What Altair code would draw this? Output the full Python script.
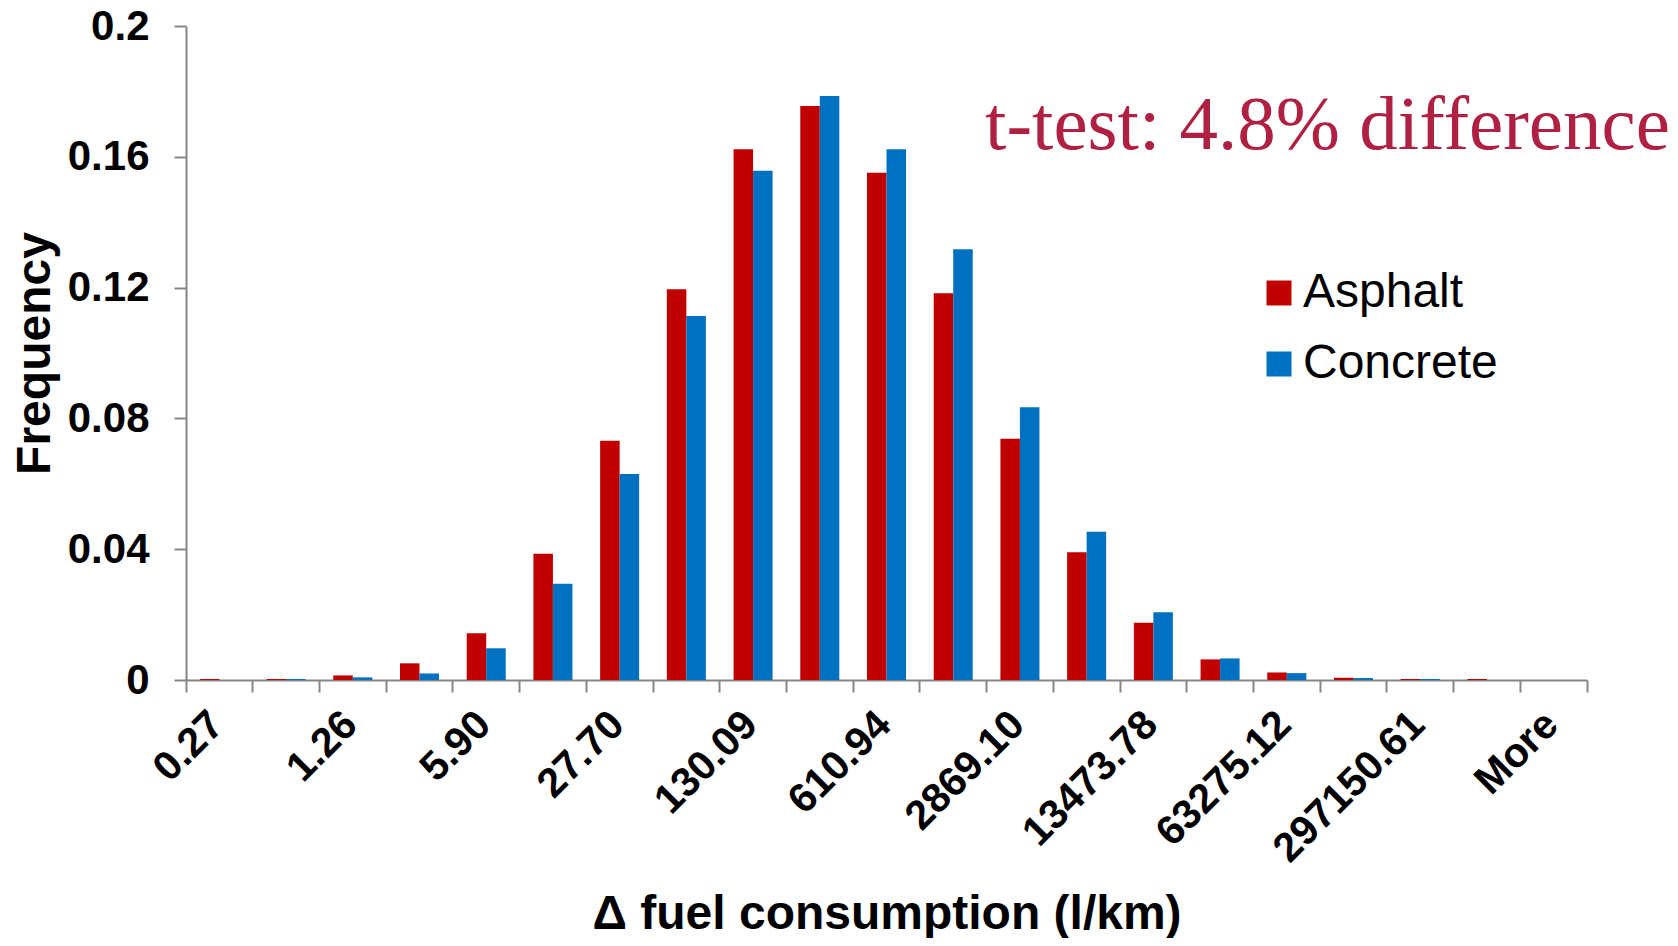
import altair as alt
import pandas as pd

CATEGORIES = ["0.27", "0.58", "1.26", "2.73", "5.90", "12.79", "27.70", "60.03",
              "130.09", "281.91", "610.94", "1323.97", "2869.10", "6217.53",
              "13473.78", "29198.47", "63275.12", "137122.04", "297150.61",
              "643946.31", "More"]
SHOWN_LABELS = ["0.27", "1.26", "5.90", "27.70", "130.09", "610.94", "2869.10",
                "13473.78", "63275.12", "297150.61", "More"]
ASPHALT = [0.0003, 0.0003, 0.0014, 0.0051, 0.0143, 0.0386, 0.0732, 0.1195,
           0.1623, 0.1755, 0.1551, 0.1183, 0.0738, 0.0391, 0.0175, 0.0063,
           0.0023, 0.0007, 0.0003, 0.0003, 0.0]
CONCRETE = [0.0, 0.0003, 0.0008, 0.0020, 0.0097, 0.0294, 0.0630, 0.1113,
            0.1557, 0.1786, 0.1623, 0.1317, 0.0834, 0.0453, 0.0207, 0.0066,
            0.0021, 0.0006, 0.0003, 0.0, 0.0]
SERIES = ["Asphalt", "Concrete"]
COLORS = ["#C00000", "#0070C0"]
Y_TICKS = [0, 0.04, 0.08, 0.12, 0.16, 0.2]
ANNOTATION = "t-test: 4.8% difference"
X_TITLE = "Δ fuel consumption (l/km)"
Y_TITLE = "Frequency"

rows = []
for i, c in enumerate(CATEGORIES):
    rows.append({"bin": c, "series": SERIES[0], "freq": ASPHALT[i]})
    rows.append({"bin": c, "series": SERIES[1], "freq": CONCRETE[i]})
df = pd.DataFrame(rows)

W, H = 1401, 654
GREY = "#868686"
SANS = "Liberation Sans"

def xscale():
    return alt.Scale(domain=CATEGORIES, paddingInner=0, paddingOuter=0)

bars = alt.Chart(df).mark_bar().encode(
    x=alt.X("bin:N", sort=CATEGORIES, scale=xscale(),
            axis=alt.Axis(orient="bottom", labels=False, ticks=True, bandPosition=0,
                          tickSize=12, tickWidth=2, tickColor=GREY,
                          domain=True, domainColor=GREY, domainWidth=2,
                          title=None, grid=False)),
    xOffset=alt.XOffset("series:N", sort=SERIES,
                        scale=alt.Scale(paddingOuter=0.71, paddingInner=0)),
    y=alt.Y("freq:Q", scale=alt.Scale(domain=[0, 0.2], nice=False, zero=True),
            axis=alt.Axis(values=Y_TICKS, format="~g", orient="left",
                          tickSize=12, tickWidth=2, tickColor=GREY,
                          domainColor=GREY, domainWidth=2, grid=False,
                          labelFont=SANS, labelFontWeight="bold", labelFontSize=42,
                          labelColor="black", labelPadding=25,
                          title=Y_TITLE, titleFont=SANS, titleFontWeight="bold",
                          titleFontSize=48, titleColor="black", titleAngle=270,
                          titleBaseline="middle", titleAlign="center",
                          titleX=-151, titleY=H / 2)),
    color=alt.Color("series:N", sort=SERIES,
                    scale=alt.Scale(domain=SERIES, range=COLORS),
                    legend=alt.Legend(orient="none", legendX=1069, legendY=243,
                                      title=None, labelFont=SANS, labelFontSize=48,
                                      labelColor="black", symbolType="square",
                                      symbolSize=625, symbolStrokeWidth=0,
                                      labelOffset=0, rowPadding=23, padding=0,
                                      symbolOffset=0, labelLimit=400)),
)

labels_layer = alt.Chart(df).mark_point(opacity=0).encode(
    x=alt.X("bin:N", sort=CATEGORIES, scale=xscale(),
            axis=alt.Axis(orient="bottom", values=SHOWN_LABELS, ticks=False,
                          tickSize=0, domain=False, grid=False,
                          labelAngle=-45, labelAlign="right", labelBaseline="top",
                          labelFont=SANS, labelFontWeight="bold", labelFontSize=41,
                          labelColor="black", labelPadding=24, labelOffset=-16,
                          labelOverlap=False, labelLimit=400,
                          title=X_TITLE, titleFont=SANS, titleFontWeight="bold",
                          titleFontSize=48, titleColor="black",
                          titleBaseline="middle", titleAlign="center",
                          titleX=W / 2, titleY=234)),
)

endtick_layer = alt.Chart(df).mark_point(opacity=0).encode(
    x=alt.X("bin:N", sort=CATEGORIES, scale=xscale(),
            axis=alt.Axis(orient="bottom", values=[CATEGORIES[-1]], bandPosition=1,
                          labels=False, ticks=True, tickSize=12, tickWidth=2,
                          tickColor=GREY, domain=False, grid=False, title=None)),
)

note = alt.Chart(pd.DataFrame({"text": [ANNOTATION]})).mark_text(
    font="Liberation Serif", fontSize=77, color="#AF2042",
    align="left", baseline="alphabetic",
).encode(text="text:N", x=alt.value(799), y=alt.value(123))

chart = alt.layer(bars, labels_layer, endtick_layer, note).resolve_axis(
    x="independent"
).properties(
    width=W, height=H,
    padding={"left": 178, "top": 18, "right": 83, "bottom": 258},
    autosize="none",
    background="white",
).configure_view(stroke="white", strokeWidth=0, strokeOpacity=0).configure_axis(grid=False)

chart.save("out.html", embed_options={"renderer": "svg", "actions": False})
